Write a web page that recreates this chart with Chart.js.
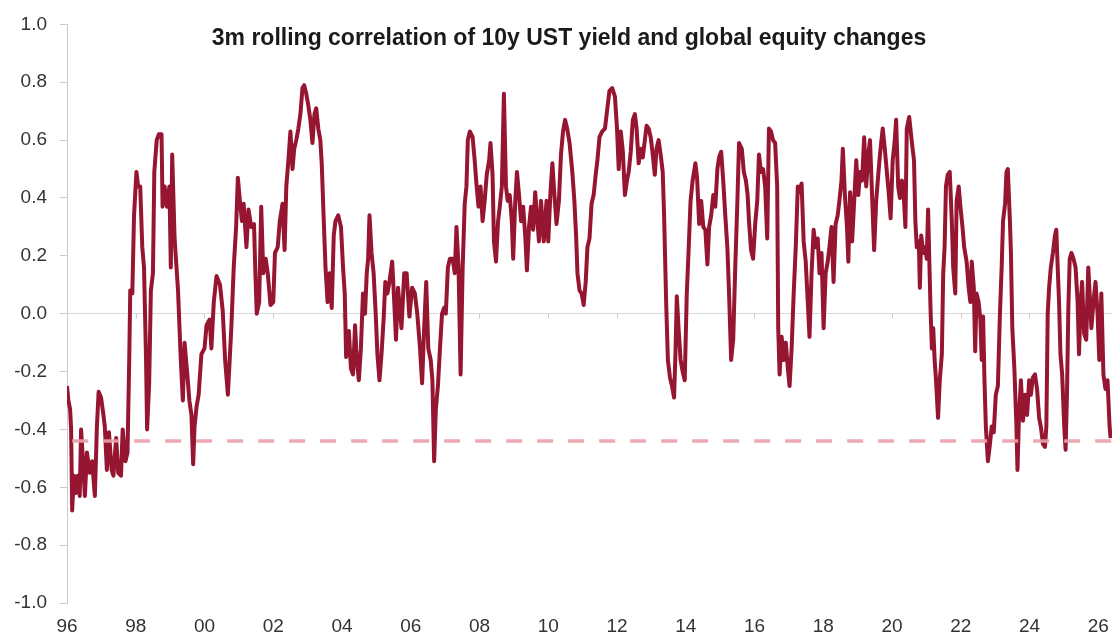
<!DOCTYPE html>
<html>
<head>
<meta charset="utf-8">
<title>3m rolling correlation of 10y UST yield and global equity changes</title>
<script src="https://cdn.jsdelivr.net/npm/chart.js@4"></script>
<style>
    html, body { margin: 0; padding: 0; background: #fff; }
    #wrap { width: 1114px; height: 639px; position: relative; }
</style>
</head>
<body>
<div id="wrap"><canvas id="corrChart"></canvas></div>
<script>
// Datos (año decimal, correlación)
const dates96 = [
    1996.00, 1996.04, 1996.09, 1996.12, 1996.15, 1996.20, 1996.25, 1996.31, 1996.37, 1996.41,
    1996.46, 1996.52, 1996.58, 1996.66, 1996.73, 1996.81, 1996.87, 1996.92, 1996.99, 1997.06,
    1997.10, 1997.16, 1997.22, 1997.30, 1997.35, 1997.43, 1997.49, 1997.57, 1997.62, 1997.70,
    1997.76, 1997.81, 1997.84, 1997.90, 1997.95, 1998.02, 1998.07, 1998.13, 1998.19, 1998.24,
    1998.30, 1998.33, 1998.39, 1998.44, 1998.50, 1998.54, 1998.61, 1998.67, 1998.75, 1998.78,
    1998.84, 1998.91, 1998.98, 1999.02, 1999.06, 1999.13, 1999.23, 1999.31, 1999.37, 1999.42,
    1999.50, 1999.56, 1999.62, 1999.67, 1999.71, 1999.77, 1999.83, 1999.91, 2000.00, 2000.06,
    2000.15, 2000.20, 2000.27, 2000.35, 2000.45, 2000.53, 2000.60, 2000.68
];
const corr96 = [
    -0.25, -0.30, -0.33, -0.40, -0.68, -0.56, -0.62, -0.56, -0.63, -0.40,
    -0.50, -0.63, -0.48, -0.55, -0.51, -0.63, -0.39, -0.27, -0.29, -0.35,
    -0.39, -0.54, -0.41, -0.54, -0.56, -0.43, -0.55, -0.56, -0.40, -0.51,
    -0.48, -0.16, 0.08, 0.07, 0.34, 0.49, 0.44, 0.44, 0.23, 0.16,
    -0.16, -0.40, -0.24, 0.08, 0.14, 0.49, 0.60, 0.62, 0.62, 0.37,
    0.44, 0.37, 0.44, 0.16, 0.55, 0.26, 0.08, -0.16, -0.30, -0.10,
    -0.21, -0.30, -0.35, -0.52, -0.39, -0.32, -0.28, -0.14, -0.12, -0.04,
    -0.02, -0.12, 0.04, 0.13, 0.10, 0.01, -0.16, -0.28
];

const dates01 = [
    2000.78, 2000.85, 2000.92, 2000.97, 2001.03, 2001.09, 2001.14, 2001.22, 2001.28, 2001.36,
    2001.44, 2001.48, 2001.52, 2001.59, 2001.65, 2001.71, 2001.78, 2001.84, 2001.92, 2002.00,
    2002.05, 2002.13, 2002.19, 2002.27, 2002.33, 2002.38, 2002.44, 2002.50, 2002.56, 2002.61,
    2002.67, 2002.73, 2002.79, 2002.85, 2002.90, 2002.96, 2003.02, 2003.08, 2003.14, 2003.20,
    2003.25, 2003.31, 2003.37, 2003.41, 2003.47, 2003.52, 2003.58, 2003.64, 2003.70, 2003.76,
    2003.81, 2003.89, 2003.97, 2004.03, 2004.08, 2004.12, 2004.20, 2004.26, 2004.32, 2004.38,
    2004.43, 2004.49, 2004.55, 2004.61, 2004.67, 2004.72, 2004.76, 2004.80, 2004.86, 2004.92,
    2004.98, 2005.03, 2005.09, 2005.15, 2005.21, 2005.26, 2005.32, 2005.38, 2005.46, 2005.52,
    2005.57, 2005.63
];
const corr01 = [
    -0.05, 0.16, 0.30, 0.47, 0.39, 0.32, 0.38, 0.23, 0.36, 0.30,
    0.31, 0.14, 0.00, 0.04, 0.37, 0.14, 0.19, 0.14, 0.03, 0.04,
    0.21, 0.23, 0.32, 0.38, 0.22, 0.44, 0.53, 0.63, 0.50, 0.57,
    0.60, 0.64, 0.69, 0.78, 0.79, 0.76, 0.72, 0.67, 0.59, 0.69,
    0.71, 0.64, 0.60, 0.52, 0.32, 0.16, 0.04, 0.14, 0.02, 0.27,
    0.32, 0.34, 0.30, 0.16, 0.07, -0.15, -0.06, -0.19, -0.21, -0.04,
    -0.16, -0.23, -0.12, 0.07, 0.00, 0.14, 0.19, 0.34, 0.21, 0.14,
    0.00, -0.14, -0.23, -0.14, -0.02, 0.11, 0.07, 0.11, 0.18, 0.04,
    -0.09, 0.09
];

const dates06 = [
    2005.73, 2005.81, 2005.88, 2005.96, 2006.04, 2006.12, 2006.19, 2006.27, 2006.33, 2006.39,
    2006.45, 2006.51, 2006.58, 2006.63, 2006.68, 2006.73, 2006.79, 2006.85, 2006.91, 2006.97,
    2007.02, 2007.08, 2007.14, 2007.22, 2007.28, 2007.33, 2007.39, 2007.45, 2007.51, 2007.57,
    2007.62, 2007.66, 2007.72, 2007.80, 2007.86, 2007.91, 2007.97, 2008.03, 2008.09, 2008.15,
    2008.21, 2008.28, 2008.32, 2008.38, 2008.42, 2008.48, 2008.54, 2008.59, 2008.65, 2008.71,
    2008.77, 2008.82, 2008.88, 2008.94, 2008.98, 2009.04, 2009.09, 2009.15, 2009.21, 2009.27,
    2009.33, 2009.38, 2009.44, 2009.50, 2009.56, 2009.62, 2009.67, 2009.73, 2009.79, 2009.87,
    2009.95, 2010.00, 2010.06, 2010.12, 2010.18, 2010.24, 2010.31, 2010.37, 2010.43, 2010.49,
    2010.55
];
const corr06 = [
    -0.05, 0.14, 0.14, -0.01, 0.09, 0.07, 0.00, -0.12, -0.24, -0.05,
    0.11, -0.12, -0.16, -0.23, -0.51, -0.33, -0.25, -0.12, 0.00, 0.02,
    0.00, 0.16, 0.19, 0.19, 0.14, 0.30, 0.16, -0.21, 0.16, 0.38,
    0.44, 0.60, 0.63, 0.61, 0.53, 0.45, 0.37, 0.44, 0.32, 0.39,
    0.48, 0.53, 0.59, 0.48, 0.25, 0.18, 0.32, 0.37, 0.44, 0.76,
    0.44, 0.39, 0.41, 0.32, 0.19, 0.39, 0.49, 0.41, 0.32, 0.37,
    0.27, 0.15, 0.30, 0.37, 0.29, 0.42, 0.34, 0.25, 0.39, 0.25,
    0.39, 0.25, 0.41, 0.52, 0.41, 0.31, 0.39, 0.55, 0.63, 0.67,
    0.64
];

const dates11 = [
    2010.62, 2010.70, 2010.76, 2010.81, 2010.85, 2010.91, 2010.97, 2011.03, 2011.09, 2011.14,
    2011.20, 2011.26, 2011.32, 2011.38, 2011.43, 2011.49, 2011.57, 2011.65, 2011.70, 2011.78,
    2011.86, 2011.94, 2012.00, 2012.05, 2012.11, 2012.17, 2012.23, 2012.29, 2012.34, 2012.40,
    2012.46, 2012.52, 2012.57, 2012.63, 2012.69, 2012.75, 2012.81, 2012.86, 2012.92, 2012.98,
    2013.04, 2013.10, 2013.15, 2013.21, 2013.27, 2013.33, 2013.37, 2013.43, 2013.48, 2013.54,
    2013.60, 2013.66, 2013.70, 2013.74, 2013.79, 2013.85, 2013.91, 2013.97, 2014.03, 2014.08,
    2014.14, 2014.20, 2014.28, 2014.33, 2014.39, 2014.45, 2014.51, 2014.57, 2014.63, 2014.68,
    2014.74, 2014.80, 2014.86, 2014.92, 2014.97, 2015.03, 2015.09, 2015.15, 2015.21, 2015.26,
    2015.32, 2015.38, 2015.44, 2015.50, 2015.55
];
const corr11 = [
    0.59, 0.49, 0.39, 0.27, 0.14, 0.08, 0.07, 0.03, 0.11, 0.23,
    0.26, 0.38, 0.41, 0.48, 0.53, 0.61, 0.63, 0.64, 0.69, 0.77,
    0.78, 0.75, 0.64, 0.50, 0.63, 0.56, 0.41, 0.46, 0.49, 0.56,
    0.67, 0.69, 0.64, 0.52, 0.57, 0.54, 0.60, 0.65, 0.64, 0.61,
    0.55, 0.48, 0.57, 0.60, 0.55, 0.49, 0.34, 0.04, -0.16, -0.22,
    -0.25, -0.29, -0.14, 0.06, -0.05, -0.16, -0.20, -0.23, 0.07, 0.21,
    0.39, 0.46, 0.52, 0.47, 0.31, 0.39, 0.30, 0.29, 0.17, 0.30,
    0.34, 0.41, 0.37, 0.50, 0.54, 0.56, 0.46, 0.34, 0.23, 0.07,
    -0.16, -0.09, 0.16, 0.38, 0.59
];

const dates16 = [
    2015.63, 2015.69, 2015.75, 2015.80, 2015.84, 2015.90, 2015.96, 2016.02, 2016.08, 2016.13,
    2016.19, 2016.25, 2016.31, 2016.37, 2016.42, 2016.48, 2016.54, 2016.60, 2016.66, 2016.69,
    2016.73, 2016.79, 2016.85, 2016.91, 2016.97, 2017.02, 2017.08, 2017.14, 2017.20, 2017.26,
    2017.31, 2017.37, 2017.43, 2017.49, 2017.55, 2017.60, 2017.66, 2017.72, 2017.78, 2017.84,
    2017.89, 2017.95, 2018.01, 2018.07, 2018.13, 2018.18, 2018.24, 2018.30, 2018.36, 2018.42,
    2018.47, 2018.53, 2018.57, 2018.63, 2018.69, 2018.73, 2018.78, 2018.84, 2018.90, 2018.96,
    2019.02, 2019.07, 2019.13, 2019.19, 2019.25, 2019.31, 2019.36, 2019.42, 2019.48, 2019.54,
    2019.60, 2019.65, 2019.73, 2019.79, 2019.85, 2019.91, 2019.96, 2020.02, 2020.08, 2020.12,
    2020.18, 2020.23, 2020.29, 2020.35, 2020.39, 2020.43, 2020.50
];
const corr16 = [
    0.57, 0.49, 0.46, 0.41, 0.32, 0.22, 0.19, 0.31, 0.39, 0.55,
    0.49, 0.50, 0.44, 0.26, 0.64, 0.63, 0.60, 0.59, 0.44, -0.05,
    -0.21, -0.08, -0.16, -0.10, -0.19, -0.25, -0.12, 0.07, 0.23, 0.44,
    0.42, 0.45, 0.25, 0.18, 0.04, -0.08, 0.14, 0.29, 0.23, 0.26,
    0.14, 0.21, -0.05, 0.14, 0.18, 0.23, 0.30, 0.11, 0.31, 0.34,
    0.39, 0.46, 0.57, 0.41, 0.30, 0.18, 0.42, 0.25, 0.39, 0.53,
    0.41, 0.49, 0.46, 0.61, 0.44, 0.55, 0.60, 0.41, 0.22, 0.39,
    0.48, 0.55, 0.64, 0.57, 0.49, 0.41, 0.33, 0.53, 0.60, 0.67,
    0.44, 0.40, 0.46, 0.39, 0.30, 0.64, 0.68
];

const dates21 = [
    2020.58, 2020.64, 2020.68, 2020.72, 2020.78, 2020.81, 2020.85, 2020.91, 2020.97, 2021.01,
    2021.05, 2021.08, 2021.12, 2021.16, 2021.20, 2021.24, 2021.28, 2021.34, 2021.39, 2021.45,
    2021.49, 2021.53, 2021.57, 2021.62, 2021.68, 2021.74, 2021.78, 2021.84, 2021.88, 2021.94,
    2021.99, 2022.05, 2022.10, 2022.17, 2022.23, 2022.28, 2022.32, 2022.38, 2022.42, 2022.46,
    2022.52, 2022.57, 2022.61, 2022.65, 2022.69, 2022.73, 2022.79, 2022.85, 2022.90, 2022.96,
    2023.02, 2023.08, 2023.14, 2023.19, 2023.23, 2023.29, 2023.33, 2023.37, 2023.43, 2023.46,
    2023.50, 2023.56, 2023.62, 2023.65, 2023.69, 2023.75, 2023.81, 2023.87, 2023.93, 2023.99,
    2024.04, 2024.10, 2024.16, 2024.22, 2024.28, 2024.33, 2024.39, 2024.45, 2024.49, 2024.53,
    2024.57, 2024.62, 2024.68, 2024.74, 2024.78, 2024.82, 2024.86, 2024.90, 2024.95, 2025.01,
    2025.05, 2025.09, 2025.13, 2025.17, 2025.22, 2025.28, 2025.34, 2025.40, 2025.44, 2025.49,
    2025.53, 2025.59, 2025.65, 2025.71, 2025.75, 2025.80, 2025.86, 2025.92, 2025.98, 2026.03,
    2026.09, 2026.15, 2026.21, 2026.27, 2026.33, 2026.36
];
const corr21 = [
    0.59, 0.53, 0.32, 0.23, 0.25, 0.09, 0.27, 0.21, 0.23, 0.19,
    0.36, 0.21, 0.02, -0.12, -0.05, -0.16, -0.23, -0.36, -0.23, -0.14,
    0.14, 0.23, 0.44, 0.48, 0.49, 0.32, 0.16, 0.07, 0.39, 0.44,
    0.37, 0.30, 0.23, 0.18, 0.09, 0.04, 0.18, 0.09, -0.13, 0.07,
    0.04, -0.02, -0.16, -0.01, -0.23, -0.39, -0.51, -0.45, -0.39, -0.41,
    -0.28, -0.25, 0.00, 0.16, 0.32, 0.38, 0.49, 0.50, 0.32, 0.21,
    -0.05, -0.19, -0.39, -0.54, -0.37, -0.23, -0.37, -0.28, -0.35, -0.23,
    -0.28, -0.22, -0.21, -0.26, -0.36, -0.39, -0.45, -0.46, -0.39, 0.00,
    0.09, 0.16, 0.21, 0.27, 0.29, 0.16, 0.04, -0.14, -0.21, -0.39,
    -0.47, -0.28, 0.02, 0.19, 0.21, 0.19, 0.16, 0.04, -0.14, 0.04,
    0.11, -0.07, -0.09, 0.16, 0.07, -0.05, 0.04, 0.11, 0.00, -0.16,
    0.07, -0.21, -0.26, -0.23, -0.39, -0.43
];

// Línea discontinua de referencia
const refLevel = -0.44;
const refDates = [1996.15, 2026.40];

const xTickYears = [1996, 1998, 2000, 2002, 2004, 2006, 2008, 2010, 2012, 2014, 2016, 2018, 2020, 2022, 2024, 2026];
const chartTitle = '3m rolling correlation of 10y UST yield and global equity changes';

const allDates = [].concat(dates96, dates01, dates06, dates11, dates16, dates21);
const allCorr = [].concat(corr96, corr01, corr06, corr11, corr16, corr21);
const linePoints = allDates.map((d, i) => ({ x: d, y: allCorr[i] }));
const refPoints = refDates.map(d => ({ x: d, y: refLevel }));

const FONT = '"Liberation Sans", Arial, Helvetica, sans-serif';

// Título dibujado dentro del área del gráfico
const titlePlugin = {
    id: 'insideTitle',
    afterDraw(chart) {
        const ctx = chart.ctx;
        ctx.save();
        ctx.font = 'bold 23px ' + FONT;
        ctx.fillStyle = '#1a1a1a';
        ctx.textAlign = 'center';
        ctx.textBaseline = 'alphabetic';
        ctx.fillText(chartTitle, 569, 45);
        ctx.restore();
    }
};

// Pequeñas marcas bajo la línea del cero
const zeroTicksPlugin = {
    id: 'zeroTicks',
    beforeDatasetsDraw(chart) {
        const xs = chart.scales.x;
        const y0 = chart.scales.y.getPixelForValue(0);
        const ctx = chart.ctx;
        ctx.save();
        ctx.strokeStyle = '#cfcfcf';
        ctx.lineWidth = 1;
        xTickYears.forEach(yr => {
            const px = Math.round(xs.getPixelForValue(yr)) + 0.5;
            ctx.beginPath();
            ctx.moveTo(px, y0);
            ctx.lineTo(px, y0 + 5);
            ctx.stroke();
        });
        ctx.restore();
    }
};

const config = {
    type: 'line',
    data: {
        datasets: [
            {
                label: 'ref',
                data: refPoints,
                borderColor: 'rgba(233, 160, 168, 0.9)',
                borderWidth: 3.5,
                borderDash: [16, 15],
                pointRadius: 0,
                fill: false,
                order: 0
            },
            {
                label: 'corr',
                data: linePoints,
                borderColor: '#961530',
                borderWidth: 4,
                borderJoinStyle: 'round',
                pointRadius: 0,
                tension: 0,
                fill: false,
                order: 1
            }
        ]
    },
    options: {
        responsive: true,
        maintainAspectRatio: false,
        animation: false,
        layout: { padding: { top: 23, right: 2, bottom: 0, left: 0 } },
        plugins: {
            legend: { display: false },
            tooltip: { enabled: false }
        },
        scales: {
            x: {
                type: 'linear',
                min: 1996,
                max: 2026.4,
                grid: { display: false },
                border: { display: false },
                ticks: {
                    stepSize: 2,
                    includeBounds: false,
                    autoSkip: false,
                    maxRotation: 0,
                    padding: 4,
                    color: '#333333',
                    font: { family: FONT, size: 19 },
                    callback: v => String(Math.round(v) % 100).padStart(2, '0')
                },
                afterFit: scale => { scale.height = 36; }
            },
            y: {
                min: -1,
                max: 1,
                grid: {
                    color: c => (c.tick && Math.abs(c.tick.value) < 1e-6) ? '#d9d9d9' : 'rgba(0,0,0,0)',
                    tickColor: '#cccccc',
                    tickLength: 7,
                    lineWidth: 1
                },
                border: { display: true, color: '#cccccc' },
                ticks: {
                    stepSize: 0.2,
                    padding: 13,
                    color: '#333333',
                    font: { family: FONT, size: 19 },
                    callback: v => (Math.abs(v) < 1e-6 ? 0 : v).toFixed(1)
                },
                afterFit: scale => { scale.width = 67; }
            }
        }
    },
    plugins: [titlePlugin, zeroTicksPlugin]
};

new Chart(document.getElementById('corrChart'), config);
</script>
</body>
</html>
